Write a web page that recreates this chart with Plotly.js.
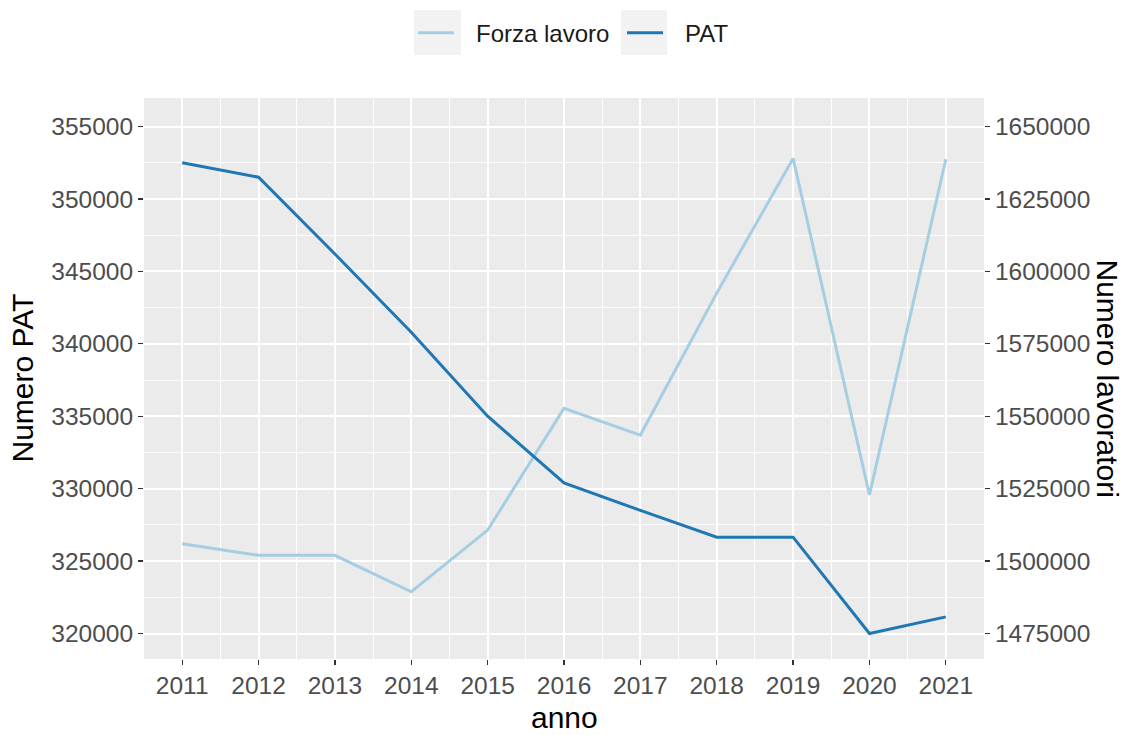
<!DOCTYPE html>
<html>
<head>
<meta charset="utf-8">
<script src="https://cdn.plot.ly/plotly-3.0.1.min.js"></script>
<style>html,body{margin:0;padding:0;background:#fff;}#chart{width:1124px;height:735px;}</style>
</head>
<body>
<div id="chart"></div>
<script>
// Data
const years = [2011, 2012, 2013, 2014, 2015, 2016, 2017, 2018, 2019, 2020, 2021];
const patValues = [352500, 351500, 346200, 340800, 335000, 330400, 328500, 326650, 326650, 320000, 321150];
const forzaLavoroValues = [1506000, 1502000, 1502000, 1489400, 1510700, 1552700, 1543500, 1592500, 1639000, 1522800, 1638700];
const seriesNames = ["Forza lavoro", "PAT"];
const seriesColors = ["#A6CEE3", "#1F78B4"];
const xTitle = "anno";
const yLeftTitle = "Numero PAT";
const yRightTitle = "Numero lavoratori";

// secondary axis relationship: lavoratori = 5 * PAT - 125000
const leftRange = [318240, 356970];
const toRight = v => 5 * v - 125000;
const rightRange = leftRange.map(toRight);

const FONT = "Liberation Sans, Arial, sans-serif";

const traces = [
  {
    x: years, y: forzaLavoroValues, name: seriesNames[0], type: "scatter", mode: "lines",
    line: {color: seriesColors[0], width: 3}, yaxis: "y", showlegend: false
  },
  {
    x: years, y: patValues, name: seriesNames[1], type: "scatter", mode: "lines",
    line: {color: seriesColors[1], width: 3}, yaxis: "y2", showlegend: false
  }
];

// Legend (drawn as key boxes + lines + text), paper coordinates
const legendKeys = [
  {box: [0.3214, 0.3774], line: [0.3262, 0.3690], textX: 0.3929},
  {box: [0.5679, 0.6226], line: [0.5750, 0.6179], textX: 0.6417}
];
const legendBoxY = [1.0766, 1.1569];
const legendLineY = 1.1164;
const legendTextY = 1.1141;

const shapes = [];
const annotations = [];
legendKeys.forEach((k, i) => {
  shapes.push({type: "rect", xref: "paper", yref: "paper", x0: k.box[0], x1: k.box[1], y0: legendBoxY[0], y1: legendBoxY[1],
               fillcolor: "#F2F2F2", line: {width: 0}, layer: "below"});
  shapes.push({type: "line", xref: "paper", yref: "paper", x0: k.line[0], x1: k.line[1], y0: legendLineY, y1: legendLineY,
               line: {color: seriesColors[i], width: 3}});
  annotations.push({text: seriesNames[i], xref: "paper", yref: "paper", x: k.textX, y: legendTextY,
                    xanchor: "left", yanchor: "middle", showarrow: false,
                    font: {family: FONT, size: 24, color: "#1A1A1A"}});
});

annotations.push(
  {text: xTitle, xref: "paper", yref: "paper", x: 0.5, y: -0.105, xanchor: "center", yanchor: "middle",
   showarrow: false, font: {family: FONT, size: 30, color: "#000000"}},
  {text: yLeftTitle, xref: "paper", yref: "paper", x: -0.1452, y: 0.5, xanchor: "center", yanchor: "middle",
   textangle: -90, showarrow: false, font: {family: FONT, size: 30, color: "#000000"}},
  {text: yRightTitle, xref: "paper", yref: "paper", x: 1.1476, y: 0.5, xanchor: "center", yanchor: "middle",
   textangle: 90, showarrow: false, font: {family: FONT, size: 30, color: "#000000"}}
);

const layout = {
  width: 1124, height: 735,
  margin: {l: 144, r: 140, t: 98, b: 76},
  paper_bgcolor: "#FFFFFF",
  plot_bgcolor: "#EBEBEB",
  font: {family: FONT, color: "#4D4D4D", size: 24},
  showlegend: false,
  xaxis: {
    range: [2010.5, 2021.5], tickmode: "array", tickvals: years, ticktext: years.map(String),
    showgrid: true, gridcolor: "#FFFFFF", gridwidth: 2,
    minor: {tickmode: "linear", tick0: 2010.5, dtick: 1, showgrid: true, gridcolor: "#FFFFFF", gridwidth: 1, ticks: ""},
    zeroline: false, showline: false,
    ticks: "outside", ticklen: 5, tickwidth: 1.3, tickcolor: "#333333",
    tickfont: {family: FONT, size: 24.5, color: "#4D4D4D"}
  },
  yaxis: {
    side: "right", range: rightRange, tickmode: "linear", tick0: 1475000, dtick: 25000, tickformat: "d",
    showgrid: true, gridcolor: "#FFFFFF", gridwidth: 2,
    minor: {tickmode: "linear", tick0: 1462500, dtick: 25000, showgrid: true, gridcolor: "#FFFFFF", gridwidth: 1, ticks: ""},
    zeroline: false, showline: false,
    ticks: "outside", ticklen: 5, tickwidth: 1.3, tickcolor: "#333333",
    tickfont: {family: FONT, size: 24.5, color: "#4D4D4D"}
  },
  yaxis2: {
    overlaying: "y", side: "left", range: leftRange, tickmode: "linear", tick0: 320000, dtick: 5000, tickformat: "d",
    showgrid: false, zeroline: false, showline: false,
    ticks: "outside", ticklen: 5, tickwidth: 1.3, tickcolor: "#333333",
    tickfont: {family: FONT, size: 24.5, color: "#4D4D4D"}
  },
  shapes: shapes,
  annotations: annotations
};

Plotly.newPlot("chart", traces, layout, {displayModeBar: false, staticPlot: true});
</script>
</body>
</html>
